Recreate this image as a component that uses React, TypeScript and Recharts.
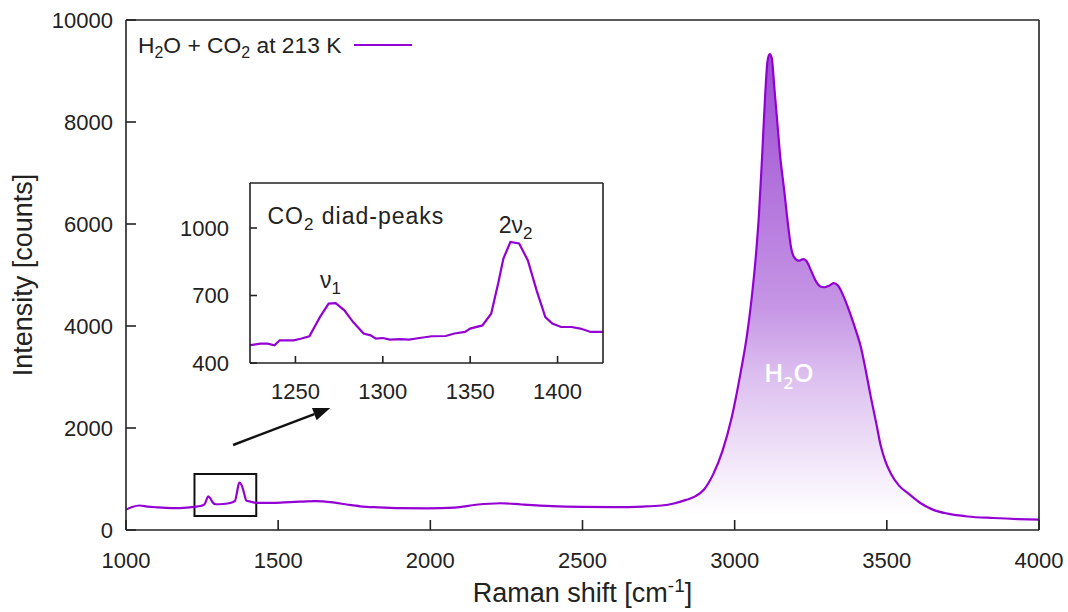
import React from "react";
import {
  ComposedChart,
  LineChart,
  Line,
  Area,
  XAxis,
  YAxis,
  ReferenceArea,
  ReferenceLine,
  ReferenceDot,
  Legend,
} from "recharts";

// ---------- data ----------
const ramanShift = [
  1000, 1020, 1045, 1070, 1100, 1150, 1200, 1225, 1245, 1258, 1265, 1270, 1276, 1285, 1295, 1320, 1345, 1358,
  1365, 1372, 1380, 1388, 1395, 1410, 1430, 1480, 1520, 1570, 1620, 1680, 1730, 1770, 1830, 1900, 1990, 2080,
  2150, 2230, 2300, 2400, 2500, 2600, 2700, 2760, 2800, 2840, 2870, 2900, 2930, 2960, 2990, 3020, 3040, 3055,
  3070, 3080, 3090, 3100, 3108, 3115, 3122, 3130, 3140, 3150, 3162, 3175, 3185, 3195, 3210, 3225, 3235, 3250,
  3265, 3280, 3295, 3310, 3325, 3340, 3355, 3370, 3385, 3400, 3415, 3430, 3447, 3465, 3480, 3495, 3513, 3540,
  3570, 3610, 3655, 3700, 3765, 3850, 3930, 4000,
];
const intensity = [
  400, 450, 480, 460, 445, 430, 440, 455, 470, 505, 600, 660, 630, 540, 505, 510, 535, 570,
  750, 930, 880, 720, 580, 555, 530, 530, 540, 555, 565, 540, 495, 465, 445, 430, 425, 440,
  495, 525, 500, 470, 455, 450, 460, 480, 520, 590, 660, 800, 1100, 1550, 2200, 3100, 3800, 4500,
  5400, 6200, 7300, 8500, 9200, 9330, 9250, 8700, 8000, 7300, 6700, 6000, 5550, 5350, 5280, 5310, 5280, 5100,
  4900, 4780, 4760, 4790, 4840, 4790, 4620, 4400, 4150, 3880, 3580, 3150, 2620, 2100, 1650, 1350, 1110, 870,
  720, 530, 390, 320, 265, 235, 215, 205,
];
const waterBand = [2800, 3700];

const insetShift = [
  1224, 1230, 1234, 1238, 1241, 1249, 1253, 1258, 1264, 1269, 1273, 1278, 1283, 1289, 1293, 1296, 1300, 1304,
  1310, 1315, 1321, 1328, 1336, 1341, 1347, 1350, 1357, 1362, 1366, 1369, 1373, 1378, 1383, 1388, 1393, 1397,
  1402, 1408, 1413, 1419, 1426,
];
const insetIntensity = [
  479, 486, 486, 479, 501, 501, 508, 519, 604, 664, 666, 634, 582, 531, 523, 508, 511, 504,
  506, 504, 511, 519, 520, 531, 538, 553, 567, 619, 753, 864, 938, 931, 856, 723, 604, 575,
  560, 560, 553, 538, 538,
];

const mainXTicks = [1000, 1500, 2000, 2500, 3000, 3500, 4000];
const mainYTicks = [0, 2000, 4000, 6000, 8000, 10000];
const insetXTicks = [1250, 1300, 1350, 1400];
const insetYTicks = [400, 700, 1000];

const seriesName = "H2O + CO2 at 213 K";

const mainData = ramanShift.map((x, i) => ({
  x,
  y: intensity[i],
  water: x >= waterBand[0] && x <= waterBand[1] ? intensity[i] : null,
}));
const insetData = insetShift.map((x, i) => ({ x, y: insetIntensity[i] }));

// ---------- styles ----------
const FONT = '"Liberation Sans", Arial, sans-serif';
const PURPLE = "#9400d3";
const AXIS = "#222222";
const tickStyle = { fontSize: 22, fill: "#222", fontFamily: FONT };

const renderLegend = (props: any) => {
  const color = props?.payload?.find((p: any) => p.type !== "none")?.color ?? PURPLE;
  const sub = { fontSize: "0.7em", verticalAlign: "-0.3em", lineHeight: 0 } as React.CSSProperties;
  return (
    <div
      style={{
        display: "flex",
        alignItems: "center",
        fontSize: 22.8,
        lineHeight: "22px",
        color: "#222",
        fontFamily: FONT,
        whiteSpace: "nowrap",
      }}
    >
      <span>
        H<span style={sub}>2</span>O + CO<span style={sub}>2</span> at 213 K
      </span>
      <svg width={58} height={4} style={{ marginLeft: 13 }}>
        <line x1={0} y1={2} x2={58} y2={2} stroke={color} strokeWidth={2.2} />
      </svg>
    </div>
  );
};

const XTitle = (props: any) => {
  const vb = props.viewBox || { x: 126, y: 530, width: 913, height: 82 };
  const cx = vb.x + vb.width / 2;
  return (
    <text x={cx} y={vb.y + 72} textAnchor="middle" fontSize={27} fill="#222" fontFamily={FONT}>
      Raman shift [cm
      <tspan dy={-10} fontSize={19}>-1</tspan>
      <tspan dy={10}>]</tspan>
    </text>
  );
};

const YTitle = (props: any) => {
  const vb = props.viewBox || { x: 56, y: 20, width: 70, height: 510 };
  const x = vb.x - 24;
  const y = vb.y + vb.height / 2;
  return (
    <text
      x={x}
      y={y}
      transform={`rotate(-90, ${x}, ${y})`}
      textAnchor="middle"
      fontSize={27}
      fill="#222"
      fontFamily={FONT}
    >
      Intensity [counts]
    </text>
  );
};

const ArrowShape = (props: any) => {
  const { x1, y1, x2, y2 } = props;
  if ([x1, y1, x2, y2].some((v) => typeof v !== "number")) return null;
  const ang = Math.atan2(y2 - y1, x2 - x1);
  const len = 17;
  const half = 6.5;
  const bx = x2 - len * Math.cos(ang);
  const by = y2 - len * Math.sin(ang);
  const px = -Math.sin(ang) * half;
  const py = Math.cos(ang) * half;
  return (
    <g>
      <line x1={x1} y1={y1} x2={bx} y2={by} stroke="#111" strokeWidth={2.5} />
      <polygon points={`${x2},${y2} ${bx + px},${by + py} ${bx - px},${by - py}`} fill="#111" />
    </g>
  );
};

const WaterLabel = (props: any) => (
  <text
    x={props.cx}
    y={props.cy}
    textAnchor="middle"
    fontSize={26}
    fontWeight={600}
    fill="#ffffff"
    fontFamily="'Open Sans', Lato, sans-serif"
  >
    H<tspan dy={7} fontSize={17}>2</tspan>
    <tspan dy={-7}>O</tspan>
  </text>
);

const InsetTitle = (props: any) => (
  <text x={props.cx} y={props.cy} textAnchor="start" fontSize={23} letterSpacing={1} fill="#222" fontFamily={FONT}>
    CO<tspan dy={6} fontSize={17}>2</tspan>
    <tspan dy={-6}> diad-peaks</tspan>
  </text>
);

const Nu1 = (props: any) => (
  <text x={props.cx} y={props.cy} textAnchor="middle" fontSize={23} fill="#222" fontFamily={FONT}>
    ν<tspan dy={6} fontSize={17}>1</tspan>
  </text>
);

const Nu2 = (props: any) => (
  <text x={props.cx} y={props.cy} textAnchor="middle" fontSize={23} fill="#222" fontFamily={FONT}>
    2ν<tspan dy={6} fontSize={17}>2</tspan>
  </text>
);

export default function App() {
  return (
    <div
      style={{
        position: "absolute",
        left: 0,
        top: 0,
        width: 1068,
        height: 612,
        background: "#ffffff",
        fontFamily: FONT,
      }}
    >
      <ComposedChart width={1068} height={612} data={mainData} margin={{ top: 19, right: 28, bottom: 0, left: 56 }}>
        <defs>
          <linearGradient id="waterGrad" x1="0" y1="0" x2="0" y2="1">
            <stop offset="0" stopColor="#8c2ccb" stopOpacity={0.85} />
            <stop offset="0.53" stopColor="#8c2ccb" stopOpacity={0.5} />
            <stop offset="0.68" stopColor="#8c2ccb" stopOpacity={0.3} />
            <stop offset="0.92" stopColor="#8c2ccb" stopOpacity={0.05} />
            <stop offset="0.97" stopColor="#8c2ccb" stopOpacity={0} />
          </linearGradient>
        </defs>
        <XAxis
          xAxisId="b"
          dataKey="x"
          type="number"
          domain={[1000, 4000]}
          ticks={mainXTicks}
          allowDataOverflow
          height={82}
          tickSize={-10}
          tickMargin={32}
          tick={tickStyle}
          stroke={AXIS}
          strokeWidth={1.6}
          label={{ content: (p: any) => <XTitle {...p} /> }}
        />
        <XAxis
          xAxisId="t"
          orientation="top"
          dataKey="x"
          type="number"
          domain={[1000, 4000]}
          ticks={mainXTicks}
          allowDataOverflow
          height={1}
          tickSize={-10}
          tick={false}
          stroke={AXIS}
          strokeWidth={1.6}
        />
        <YAxis
          yAxisId="l"
          type="number"
          domain={[0, 10000]}
          ticks={mainYTicks}
          allowDataOverflow
          width={70}
          tickSize={-10}
          tickMargin={23}
          tick={tickStyle}
          stroke={AXIS}
          strokeWidth={1.6}
          label={{ content: (p: any) => <YTitle {...p} /> }}
        />
        <YAxis
          yAxisId="r"
          orientation="right"
          type="number"
          domain={[0, 10000]}
          ticks={mainYTicks}
          allowDataOverflow
          width={1}
          tickSize={-10}
          tick={false}
          stroke={AXIS}
          strokeWidth={1.6}
        />
        <Area
          xAxisId="b"
          yAxisId="l"
          dataKey="water"
          type="monotone"
          stroke="none"
          fill="url(#waterGrad)"
          fillOpacity={1}
          legendType="none"
          isAnimationActive={false}
        />
        <Line
          xAxisId="b"
          yAxisId="l"
          dataKey="y"
          name={seriesName}
          type="monotone"
          stroke={PURPLE}
          strokeWidth={2.2}
          dot={false}
          activeDot={false}
          isAnimationActive={false}
        />
        <ReferenceArea
          xAxisId="b"
          yAxisId="l"
          x1={1225}
          x2={1428}
          y1={275}
          y2={1100}
          fill="none"
          fillOpacity={0}
          stroke="#111"
          strokeWidth={2}
        />
        <ReferenceLine
          xAxisId="b"
          yAxisId="l"
          segment={[
            { x: 1352, y: 1667 },
            { x: 1671, y: 2392 },
          ]}
          shape={(p: any) => <ArrowShape {...p} />}
        />
        <ReferenceDot xAxisId="b" yAxisId="l" x={3178} y={2900} r={0} shape={(p: any) => <WaterLabel {...p} />} />
        <Legend
          layout="horizontal"
          verticalAlign="middle"
          align="center"
          content={renderLegend}
          wrapperStyle={{ position: "absolute", left: 138, top: 34, width: "auto", height: "auto" }}
        />
      </ComposedChart>

      <div style={{ position: "absolute", left: 170, top: 170 }}>
        <LineChart width={440} height={250} data={insetData} margin={{ top: 12, right: 6, bottom: 17, left: 20 }}>
          <XAxis
            xAxisId="b"
            dataKey="x"
            type="number"
            domain={[1224, 1426]}
            ticks={insetXTicks}
            allowDataOverflow
            height={40}
            tickSize={-7}
            tickMargin={27}
            tick={tickStyle}
            stroke={AXIS}
            strokeWidth={1.6}
          />
          <XAxis
            xAxisId="t"
            orientation="top"
            dataKey="x"
            type="number"
            domain={[1224, 1426]}
            ticks={insetXTicks}
            allowDataOverflow
            height={1}
            tickSize={-7}
            tick={false}
            stroke={AXIS}
            strokeWidth={1.6}
          />
          <YAxis
            yAxisId="l"
            type="number"
            domain={[400, 1200]}
            ticks={insetYTicks}
            allowDataOverflow
            width={60}
            tickSize={-7}
            tickMargin={28}
            tick={tickStyle}
            stroke={AXIS}
            strokeWidth={1.6}
          />
          <YAxis
            yAxisId="r"
            orientation="right"
            type="number"
            domain={[400, 1200]}
            ticks={insetYTicks}
            allowDataOverflow
            width={1}
            tickSize={-7}
            tick={false}
            stroke={AXIS}
            strokeWidth={1.6}
          />
          <Line
            xAxisId="b"
            yAxisId="l"
            dataKey="y"
            type="linear"
            stroke={PURPLE}
            strokeWidth={2.2}
            dot={false}
            activeDot={false}
            isAnimationActive={false}
          />
          <ReferenceDot xAxisId="b" yAxisId="l" x={1234} y={1019} r={0} shape={(p: any) => <InsetTitle {...p} />} />
          <ReferenceDot xAxisId="b" yAxisId="l" x={1270} y={732} r={0} shape={(p: any) => <Nu1 {...p} />} />
          <ReferenceDot xAxisId="b" yAxisId="l" x={1376} y={976} r={0} shape={(p: any) => <Nu2 {...p} />} />
        </LineChart>
      </div>
    </div>
  );
}
